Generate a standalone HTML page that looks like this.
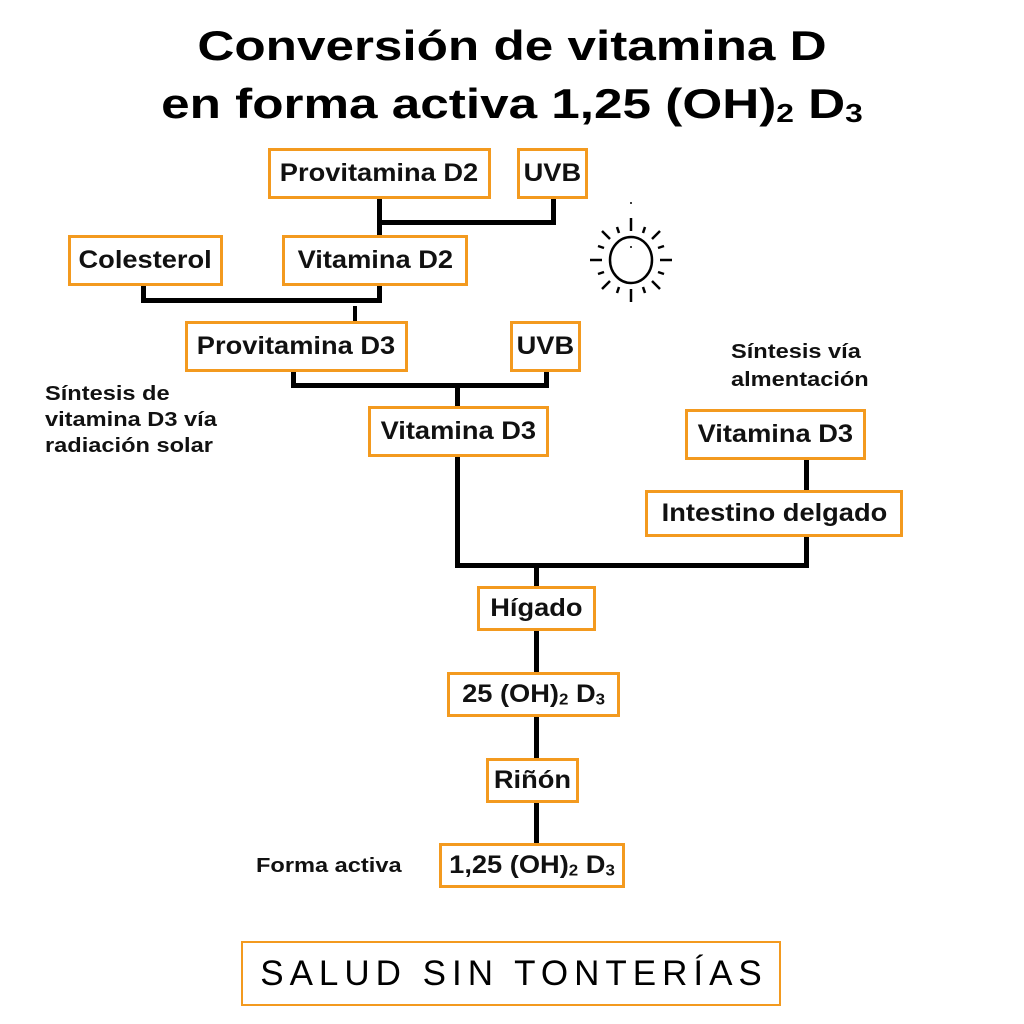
<!DOCTYPE html>
<html><head><meta charset="utf-8"><style>
html,body{margin:0;padding:0;background:#fff;}
body{width:1024px;height:1024px;position:relative;overflow:hidden;font-family:"Liberation Sans",sans-serif;}
.t{position:absolute;left:0;width:1024px;text-align:center;font-weight:bold;font-size:42px;color:#000;line-height:1;transform:scaleX(1.22);transform-origin:512px 0;}
.b{position:absolute;box-sizing:border-box;border:3px solid #f39a1f;background:#fff;display:flex;align-items:center;justify-content:center;font-weight:bold;font-size:25px;color:#111;white-space:nowrap;}
.b span{display:inline-block;transform:scaleX(1.09);}
.l{position:absolute;font-weight:bold;font-size:20px;color:#111;line-height:26px;transform:scaleX(1.18);transform-origin:0 0;white-space:nowrap;}
.v{position:absolute;background:#000;}
sub{font-size:0.62em;vertical-align:-0.15em;}
</style></head><body>
<div class="t" style="top:25px">Conversión de vitamina D</div>
<div class="t" style="top:83px">en forma activa 1,25 (OH)<sub>2</sub> D<sub>3</sub></div>

<div class="v" style="left:377px;top:199px;width:5px;height:36px"></div>
<div class="v" style="left:377px;top:220px;width:178px;height:5px"></div>
<div class="v" style="left:551px;top:199px;width:5px;height:26px"></div>
<div class="v" style="left:141px;top:286px;width:5px;height:17px"></div>
<div class="v" style="left:141px;top:298px;width:241px;height:5px"></div>
<div class="v" style="left:377px;top:286px;width:5px;height:17px"></div>
<div class="v" style="left:353px;top:306px;width:4px;height:21px"></div>
<div class="v" style="left:291px;top:372px;width:5px;height:16px"></div>
<div class="v" style="left:291px;top:383px;width:257px;height:5px"></div>
<div class="v" style="left:544px;top:372px;width:5px;height:16px"></div>
<div class="v" style="left:455px;top:383px;width:5px;height:23px"></div>
<div class="v" style="left:455px;top:457px;width:5px;height:111px"></div>
<div class="v" style="left:455px;top:563px;width:353px;height:5px"></div>
<div class="v" style="left:804px;top:460px;width:5px;height:30px"></div>
<div class="v" style="left:804px;top:537px;width:5px;height:31px"></div>
<div class="v" style="left:534px;top:563px;width:5px;height:280px"></div>

<div class="b" style="left:268px;top:148px;width:223px;height:51px"><span>Provitamina D2</span></div>
<div class="b" style="left:517px;top:148px;width:71px;height:51px"><span>UVB</span></div>
<div class="b" style="left:68px;top:235px;width:155px;height:51px"><span>Colesterol</span></div>
<div class="b" style="left:282px;top:235px;width:186px;height:51px"><span>Vitamina D2</span></div>
<div class="b" style="left:185px;top:321px;width:223px;height:51px"><span>Provitamina D3</span></div>
<div class="b" style="left:510px;top:321px;width:71px;height:51px"><span>UVB</span></div>
<div class="b" style="left:368px;top:406px;width:181px;height:51px"><span>Vitamina D3</span></div>
<div class="b" style="left:685px;top:409px;width:181px;height:51px"><span>Vitamina D3</span></div>
<div class="b" style="left:645px;top:490px;width:258px;height:47px"><span>Intestino delgado</span></div>
<div class="b" style="left:477px;top:586px;width:119px;height:45px"><span>Hígado</span></div>
<div class="b" style="left:447px;top:672px;width:173px;height:45px"><span>25 (OH)<sub>2</sub> D<sub>3</sub></span></div>
<div class="b" style="left:486px;top:758px;width:93px;height:45px"><span>Riñón</span></div>
<div class="b" style="left:439px;top:843px;width:186px;height:45px"><span>1,25 (OH)<sub>2</sub> D<sub>3</sub></span></div>

<div class="l" style="left:45px;top:381px">Síntesis de<br>vitamina D3 vía<br>radiación solar</div>
<div class="l" style="left:731px;top:338px;line-height:28px">Síntesis vía<br>almentación</div>
<div class="l" style="left:256px;top:853px">Forma activa</div>

<div class="b" style="left:241px;top:941px;width:540px;height:65px;border-width:2px;font-weight:normal;font-size:35px;letter-spacing:6px;padding-left:6px;color:#000">SALUD SIN TONTERÍAS</div>

<svg style="position:absolute;left:0;top:0" width="1024" height="1024">
<g stroke="#000" stroke-width="2.5" fill="none">
<ellipse cx="631" cy="260" rx="21" ry="23"/>
<line x1="631" y1="218" x2="631" y2="231"/><line x1="631" y1="289" x2="631" y2="302"/>
<line x1="590" y1="260" x2="602" y2="260"/><line x1="660" y1="260" x2="672" y2="260"/>
<line x1="602" y1="231" x2="610" y2="239"/><line x1="652" y1="281" x2="660" y2="289"/>
<line x1="660" y1="231" x2="652" y2="239"/><line x1="610" y1="281" x2="602" y2="289"/>
<line x1="617" y1="227" x2="619" y2="233"/><line x1="645" y1="227" x2="643" y2="233"/>
<line x1="617" y1="293" x2="619" y2="287"/><line x1="645" y1="293" x2="643" y2="287"/>
<line x1="598" y1="246" x2="604" y2="248"/><line x1="664" y1="246" x2="658" y2="248"/>
<line x1="598" y1="274" x2="604" y2="272"/><line x1="664" y1="274" x2="658" y2="272"/>
</g>
<circle cx="631" cy="203" r="1" fill="#000"/><circle cx="631" cy="247" r="1" fill="#000"/>
</svg>
</body></html>
